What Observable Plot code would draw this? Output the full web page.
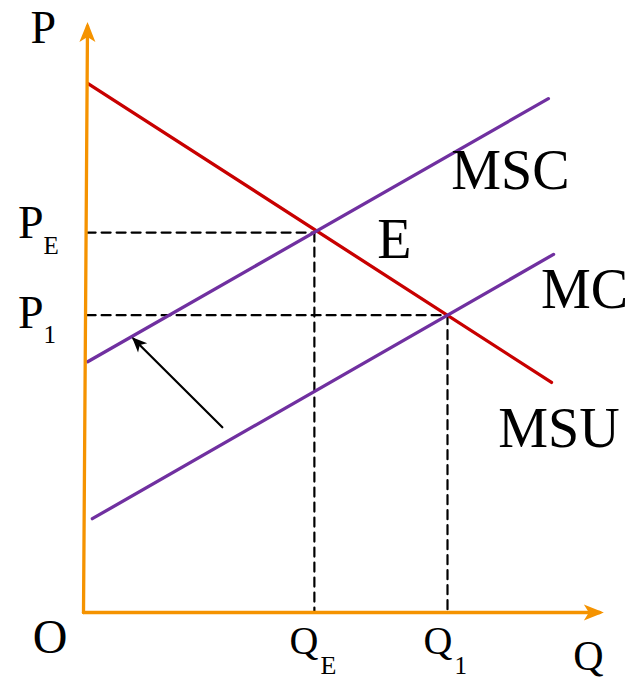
<!DOCTYPE html>
<html>
<head>
<meta charset="utf-8">
<script src="https://cdn.jsdelivr.net/npm/d3@7"></script>
<script src="https://cdn.jsdelivr.net/npm/@observablehq/plot@0.6"></script>
<style>
  html, body { margin: 0; padding: 0; background: #fff; }
</style>
</head>
<body>
<div id="chart"></div>
<script>
// ---- data (quantity Q, price P in arbitrary units) ----
const axisQ = [0, 99.3];          // horizontal axis extent
const axisYQ = [0, 0.77];         // vertical axis is drawn very slightly slanted
const axisYP = [0, 99.4];
const msuQ = [0.8, 90.0];
const msuP = [89.7, 39.0];
const mscQ = [0.8, 89.4];
const mscP = [42.5, 87.1];
const mcQ = [1.7, 90.4];
const mcP = [15.9, 60.7];
const QE = 44.4, PE = 64.4;
const Q1 = 70.0, P1 = 50.4;
const dashStart = 0.6;
const shiftQ = [26.7, 9.6];
const shiftP = [31.4, 46.4];

const ORANGE = "#F59300", RED = "#C80000", PURPLE = "#7030A0";
const FONT = "Liberation Serif, Times New Roman, serif";

function headMarker(len, half, notch, over, fill) {
  return (color, context) => {
    const doc = (context && context.document) || document;
    const ns = "http://www.w3.org/2000/svg";
    const m = doc.createElementNS(ns, "marker");
    m.setAttribute("viewBox", `${-len} ${-half} ${len} ${2 * half}`);
    m.setAttribute("markerUnits", "userSpaceOnUse");
    m.setAttribute("markerWidth", len);
    m.setAttribute("markerHeight", 2 * half);
    m.setAttribute("refX", -over);
    m.setAttribute("refY", 0);
    m.setAttribute("orient", "auto");
    m.setAttribute("overflow", "visible");
    const p = doc.createElementNS(ns, "path");
    p.setAttribute("d", `M0,0L${-len},${-half}L${-len + notch},0L${-len},${half}Z`);
    p.setAttribute("fill", fill);
    p.setAttribute("stroke", "none");
    m.appendChild(p);
    return m;
  };
}

const seg = (qs, ps) => qs.map((q, i) => ({q, p: ps[i]}));
const dash = {stroke: "black", strokeWidth: 2.2, strokeDasharray: "9,6"};
const big = {fontFamily: FONT, fill: "black", lineAnchor: "bottom"};

const chart = Plot.plot({
  width: 629,
  height: 679,
  margin: 0,
  x: {domain: [0, 100], range: [83, 603], axis: null},
  y: {domain: [0, 100], range: [612, 22], axis: null},
  style: {background: "white", fontFamily: FONT},
  marks: [
    // dashed guides
    Plot.line(seg([dashStart, QE], [PE, PE]), {x: "q", y: "p", ...dash}),
    Plot.line(seg([QE, QE], [PE, 0]), {x: "q", y: "p", ...dash}),
    Plot.line(seg([dashStart, Q1], [P1, P1]), {x: "q", y: "p", ...dash}),
    Plot.line(seg([Q1, Q1], [P1, 0]), {x: "q", y: "p", ...dash}),
    // curves
    Plot.line(seg(msuQ, msuP), {x: "q", y: "p", stroke: RED, strokeWidth: 3.3}),
    Plot.line(seg(mscQ, mscP), {x: "q", y: "p", stroke: PURPLE, strokeWidth: 3.3}),
    Plot.line(seg(mcQ, mcP), {x: "q", y: "p", stroke: PURPLE, strokeWidth: 3.3}),
    // shift arrow
    Plot.line(seg(shiftQ, shiftP), {x: "q", y: "p", stroke: "black", strokeWidth: 2.2,
      markerEnd: headMarker(15, 6.5, 4, 2, "black")}),
    // axes
    Plot.line(seg(axisQ, [0, 0]), {x: "q", y: "p", stroke: ORANGE, strokeWidth: 3.3,
      markerEnd: headMarker(20, 8, 5, 4, ORANGE)}),
    Plot.line(seg(axisYQ, axisYP), {x: "q", y: "p", stroke: ORANGE, strokeWidth: 3.3,
      markerEnd: headMarker(20, 8, 5, 4, ORANGE)}),
    // axis titles and origin
    Plot.text(["P"], {x: () => 0, y: () => 100, text: d => d, ...big, fontSize: 46, textAnchor: "start", dx: -53, dy: 20}),
    Plot.text(["Q"], {x: () => 100, y: () => 0, text: d => d, ...big, fontSize: 42, textAnchor: "end", dx: 0, dy: 57}),
    Plot.text(["O"], {x: () => 0, y: () => 0, text: d => d, ...big, fontSize: 48, textAnchor: "end", dx: -16, dy: 40}),
    // price labels
    Plot.text(["P"], {x: () => 0, y: () => PE, text: d => d, ...big, fontSize: 46, textAnchor: "end", dx: -40, dy: 5}),
    Plot.text(["E"], {x: () => 0, y: () => PE, text: d => d, ...big, fontSize: 25, textAnchor: "start", dx: -40, dy: 21}),
    Plot.text(["P"], {x: () => 0, y: () => P1, text: d => d, ...big, fontSize: 46, textAnchor: "end", dx: -40, dy: 12.5}),
    Plot.text(["1"], {x: () => 0, y: () => P1, text: d => d, ...big, fontSize: 25, textAnchor: "start", dx: -40, dy: 27.5}),
    // quantity labels
    Plot.text(["Q"], {x: () => QE, y: () => 0, text: d => d, ...big, fontSize: 40, textAnchor: "end", dx: 4, dy: 41}),
    Plot.text(["E"], {x: () => QE, y: () => 0, text: d => d, ...big, fontSize: 26, textAnchor: "start", dx: 6, dy: 61}),
    Plot.text(["Q"], {x: () => Q1, y: () => 0, text: d => d, ...big, fontSize: 40, textAnchor: "end", dx: 5, dy: 41}),
    Plot.text(["1"], {x: () => Q1, y: () => 0, text: d => d, ...big, fontSize: 25, textAnchor: "start", dx: 7, dy: 61}),
    // curve labels
    Plot.text(["MSC"], {x: () => mscQ[1], y: () => mscP[1], text: d => d, ...big, fontSize: 56, textAnchor: "middle", dx: -38, dy: 90}),
    Plot.text(["E"], {x: () => QE, y: () => PE, text: d => d, ...big, fontSize: 56, textAnchor: "middle", dx: 80, dy: 25}),
    Plot.text(["MC"], {x: () => mcQ[1], y: () => mcP[1], text: d => d, ...big, fontSize: 56, textAnchor: "middle", dx: 31, dy: 54}),
    Plot.text(["MSU"], {x: () => msuQ[1], y: () => msuP[1], text: d => d, ...big, fontSize: 56, textAnchor: "middle", dx: 7.5, dy: 65})
  ]
});
document.getElementById("chart").appendChild(chart);
</script>
</body>
</html>
